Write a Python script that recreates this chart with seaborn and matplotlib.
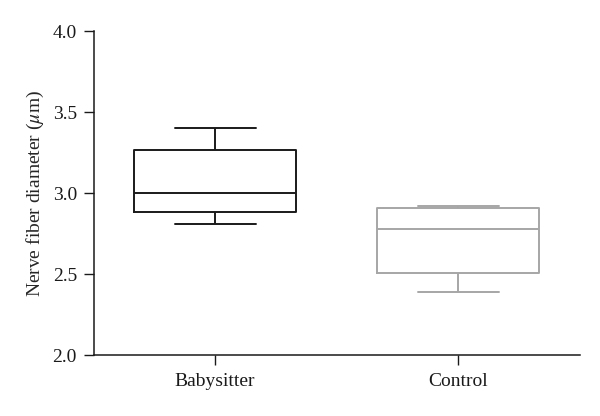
import matplotlib
matplotlib.use("Agg")
import matplotlib.pyplot as plt
import seaborn as sns
import pandas as pd

# Five-number summaries (min, Q1, median, Q3, max)
groups = ["Babysitter", "Control"]
babysitter = [2.81, 2.883, 3.00, 3.267, 3.40]
control = [2.39, 2.506, 2.778, 2.911, 2.922]
box_colors = ["#1a1a1a", "#a6a6a6"]

df = pd.DataFrame({
    "group": [groups[0]] * len(babysitter) + [groups[1]] * len(control),
    "value": babysitter + control,
})

sns.set_style("ticks")
plt.rcParams["font.family"] = ["Liberation Serif", "DejaVu Serif"]
plt.rcParams["mathtext.fontset"] = "stix"

fig, ax = plt.subplots(figsize=(6, 4.16), dpi=100)
fig.subplots_adjust(left=0.156, right=0.966, top=0.925, bottom=0.146)

for grp, col in zip(groups, box_colors):
    sub = df[df["group"] == grp]
    sns.boxplot(x="group", y="value", data=sub, order=groups, ax=ax,
                whis=(0, 100), width=0.667, fill=False, color=col,
                linewidth=1.4, showfliers=False,
                medianprops=dict(color=col, linewidth=1.4),
                capprops=dict(color=col, linewidth=1.4))

ax.set_xlim(-0.5, 1.5)
ax.set_ylim(2.0, 4.0)
ax.set_yticks([2.0, 2.5, 3.0, 3.5, 4.0])
ax.set_yticklabels(["2.0", "2.5", "3.0", "3.5", "4.0"])
ax.set_xlabel("")
ax.set_ylabel(r"Nerve fiber diameter ($\mu$m)", fontsize=14, labelpad=5)
ax.tick_params(axis="both", labelsize=14, length=7, width=1, direction="out", colors="#1a1a1a")
ax.tick_params(axis="y", pad=5)
ax.tick_params(axis="x", pad=6)
for s in ["left", "bottom"]:
    ax.spines[s].set_linewidth(1.1)
    ax.spines[s].set_color("#1a1a1a")
sns.despine(ax=ax)

fig.savefig("out.png", dpi=100)
